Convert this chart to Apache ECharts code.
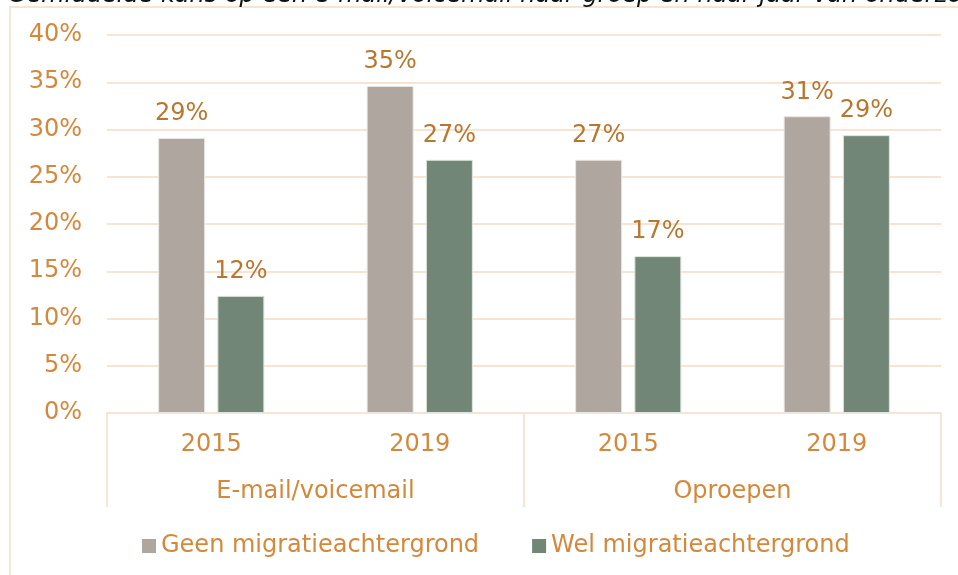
<!DOCTYPE html>
<html lang="nl">
<head>
  <meta charset="UTF-8">
  <title>Gemiddelde kans op een e-mail/voicemail</title>
  <script src="https://cdn.jsdelivr.net/npm/echarts@6/dist/echarts.min.js"></script>
  <style>
    html, body { margin: 0; padding: 0; background: #fff; }
    #chart { width: 958px; height: 575px; }
  </style>
</head>
<body>
  <div id="chart"></div>
</body>
</html>
<script>
  // data
  var years = ['2015', '2019', '2015', '2019']
  var groups = ['E-mail/voicemail', 'Oproepen']
  var geen = [29.1, 34.6, 26.8, 31.4]   // Geen migratieachtergrond
  var wel = [12.4, 26.8, 16.6, 29.4]    // Wel migratieachtergrond
  var seriesNames = ['Geen migratieachtergrond', 'Wel migratieachtergrond']

  var font = 'DejaVu Sans, Verdana, sans-serif'
  var fs = 24
  var peach = '#f7e4d3'
  var orange = '#d4883c'
  var labelColor = '#b8762f'

  var chart = echarts.init(document.getElementById('chart'))

  chart.setOption({
    animation: false,
    title: {
      text: 'Gemiddelde kans op een e-mail/voicemail naar groep en naar jaar van onderzoek',
      left: 8,
      top: -16,
      padding: 0,
      textStyle: { fontFamily: font, fontStyle: 'italic', fontWeight: 'normal', fontSize: fs, color: '#111' }
    },
    color: ['#aea69f', '#718676'],
    graphic: [{
      type: 'rect',
      shape: { x: 10, y: 7, width: 1000, height: 700 },
      style: { fill: 'none', stroke: peach, lineWidth: 2 },
      z: -1
    }],
    legend: {
      left: 137,
      top: 529,
      itemWidth: 14,
      itemHeight: 14,
      itemGap: 53,
      icon: 'rect',
      itemStyle: { borderWidth: 0 },
      textStyle: { fontFamily: font, fontSize: fs, color: orange },
      data: seriesNames
    },
    grid: { left: 107, right: 17, top: 35, bottom: 162 },
    xAxis: [
      {
        type: 'category',
        data: years,
        axisLine: { lineStyle: { color: peach, width: 2 } },
        axisTick: { show: false },
        axisLabel: { margin: 20, fontFamily: font, fontSize: fs, color: orange }
      },
      {
        type: 'category',
        data: groups,
        position: 'bottom',
        axisLine: { show: false },
        axisTick: { show: true, length: 94, lineStyle: { color: peach, width: 2 } },
        axisLabel: { margin: 67, fontFamily: font, fontSize: fs, color: orange }
      }
    ],
    yAxis: {
      type: 'value',
      min: 0,
      max: 40,
      interval: 5,
      axisLine: { show: false },
      axisTick: { show: false },
      splitLine: { lineStyle: { color: peach, width: 2 } },
      axisLabel: { margin: 25, formatter: '{value}%', fontFamily: font, fontSize: fs, color: orange }
    },
    series: [
      {
        name: seriesNames[0],
        type: 'bar',
        data: geen,
        barWidth: 47,
        barGap: '26%',
        itemStyle: { borderColor: '#e9e6e2', borderWidth: 1 },
        label: {
          show: true, position: 'top', distance: 12,
          formatter: function (p) { return Math.round(p.value) + '%' },
          fontFamily: font, fontSize: fs, color: labelColor
        }
      },
      {
        name: seriesNames[1],
        type: 'bar',
        data: wel,
        barWidth: 47,
        itemStyle: { borderColor: '#dfe6e0', borderWidth: 1 },
        label: {
          show: true, position: 'top', distance: 12,
          formatter: function (p) { return Math.round(p.value) + '%' },
          fontFamily: font, fontSize: fs, color: labelColor
        }
      }
    ]
  })
</script>
